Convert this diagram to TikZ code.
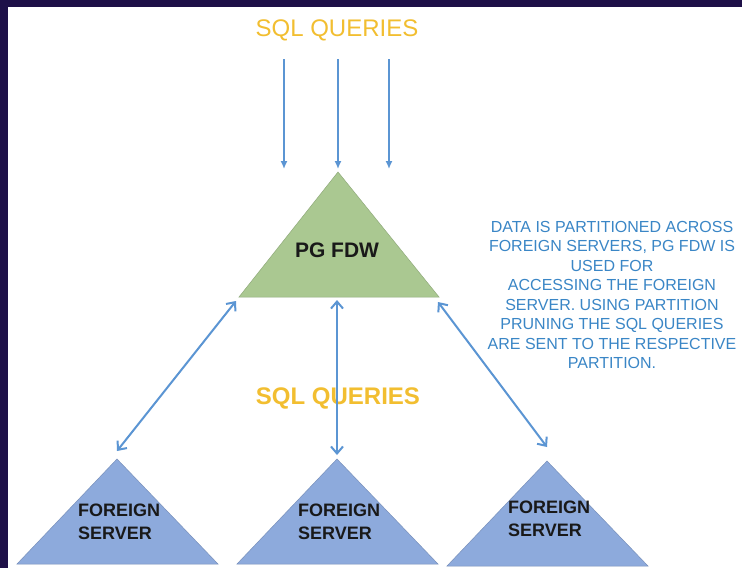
\documentclass[tikz,border=0pt]{standalone}
\usepackage{fontspec}
\setmainfont{Liberation Sans}
\usetikzlibrary{arrows.meta}
\definecolor{framec}{HTML}{1E1048}
\definecolor{queryc}{HTML}{F2BE30}
\definecolor{notec}{HTML}{3A86C6}
\definecolor{linkc}{HTML}{5B95D3}
\definecolor{fdwc}{HTML}{AAC891}
\definecolor{serverc}{HTML}{8DAADC}
\tikzset{
        sqltext/.style={text=queryc, font=\fontsize{24}{28}\selectfont, inner sep=0pt},
        sqlbold/.style={sqltext, font=\fontsize{24}{28}\selectfont\bfseries},
        fdwtri/.style={fill=fdwc, draw=fdwc!85!black, line width=0.5pt},
        servertri/.style={fill=serverc, draw=serverc!85!black, line width=0.5pt},
        trilabel/.style={text=black!90, font=\fontsize{18}{23}\selectfont\bfseries, align=left, inner sep=0pt, anchor=west},
        note/.style={text=notec, font=\fontsize{16}{19.5}\selectfont, align=center, inner sep=0pt},
        feed/.style={draw=linkc, line width=1.5pt, -{Latex[length=8pt,width=7pt]}},
        link/.style={draw=linkc, line width=2pt, {Straight Barb[length=7pt,width=12pt]}-{Straight Barb[length=7pt,width=12pt]}}
          }

\begin{document}
\begin{tikzpicture}[x=1pt,y=-1pt]
        \useasboundingbox (0,0) rectangle (742,568);
        % frame
        \fill[framec] (0,0) rectangle (742,568);
        \fill[white] (8,7) rectangle (742,568);

        % triangles
        \coordinate (fdwtop) at (338,172);
        \coordinate (fdwleft) at (239,297);
        \coordinate (fdwright) at (439,297);
        \draw[fdwtri] (fdwtop) -- (fdwleft) -- (fdwright) -- cycle;
        \foreach \name/\x/\y in {srva/117/459, srvb/337/459, srvc/547/461}{
          \coordinate (\name) at (\x,\y);
          \draw[servertri] (\name) -- ++(-100,105) -- ++(201,0) -- cycle;
        }

        % texts
        \node[sqltext] (sqlin) at (337,30) {SQL QUERIES};
        \node[sqlbold] (sqlout) at (338,398) {SQL QUERIES};
        \node[text=black!90, font=\fontsize{21}{25}\selectfont\bfseries, inner sep=0pt] (fdw) at (337,250) {PG FDW};
        \node[trilabel] (lbla) at (78,522) {FOREIGN\\SERVER};
        \node[trilabel] (lblb) at (298,522) {FOREIGN\\SERVER};
        \node[trilabel] (lblc) at (508,519) {FOREIGN\\SERVER};
        \node[note] (info) at (612,295) {DATA IS PARTITIONED ACROSS\\FOREIGN SERVERS, PG FDW IS\\USED FOR\\ACCESSING THE FOREIGN\\SERVER. USING PARTITION\\PRUNING THE SQL QUERIES\\ARE SENT TO THE RESPECTIVE\\PARTITION.};

        % incoming queries
        \foreach \x [count=\i] in {284,338,389}{
          \coordinate (qs\i) at (\x,59);
          \coordinate (qe\i) at (\x,169);
          \draw[feed] (qs\i) -- (qe\i);
        }

        % links to the foreign servers
        \coordinate (la) at (236,301);
        \coordinate (lb) at (337,300);
        \coordinate (lc) at (438,302);
        \draw[link] (la) -- ([yshift=8pt]srva);
        \draw[link] (lb) -- ([yshift=4pt]srvb);
        \draw[link] (lc) -- ([yshift=14pt]srvc);
      \end{tikzpicture}
\end{document}
